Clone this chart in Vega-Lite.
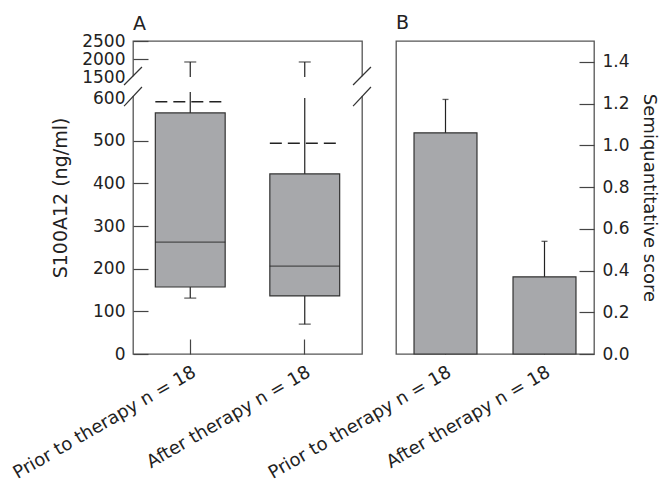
{
  "$schema": "https://vega.github.io/schema/vega-lite/v6.json",
  "background": "white",
  "padding": {"left": 9, "top": 13, "right": 5, "bottom": 0},
  "bounds": "flush",
  "spacing": 34,
  "config": {
    "font": "DejaVu Sans",
    "view": {"stroke": "#555", "strokeWidth": 1.3},
    "axis": {
      "labelFont": "DejaVu Sans",
      "titleFont": "DejaVu Sans",
      "labelColor": "#222",
      "titleColor": "#222",
      "tickColor": "#444",
      "tickWidth": 1.2,
      "domain": false,
      "grid": false,
      "titleFontWeight": "normal",
      "labelFontSize": 17,
      "titleFontSize": 18,
      "labelOverlap": false
    },
    "title": {"font": "DejaVu Sans", "fontSize": 19, "fontWeight": "normal", "anchor": "start", "color": "#222", "frame": "group"}
  },
  "hconcat": [
    {
      "width": 229,
      "height": 313,
      "title": {"text": "A", "offset": -2, "frame": "group"},
      "layer": [
        {
          "data": {
            "values": [
              {"group": "Prior to therapy n = 18", "lower": 131, "q1": 157, "median": 262, "q3": 565, "mean": 591, "whisker_gap_low": 857, "whisker_gap_high": 1500, "upper": 1917},
              {"group": "After therapy n = 18", "lower": 70, "q1": 136, "median": 206, "q3": 422, "mean": 494, "whisker_gap_low": 600, "whisker_gap_high": 1500, "upper": 1917}
            ]
          },
          "layer": [
            {
              "mark": {"type": "rule", "color": "#222", "strokeWidth": 1.2},
              "encoding": {
                "x": {"field": "group", "type": "nominal", "sort": null, "scale": {"paddingInner": 0, "paddingOuter": 0},
                  "axis": {"title": null, "tickSize": -15, "labelAngle": -30, "labelAlign": "right", "labelBaseline": "top", "labelPadding": 24, "labelOffset": 0, "labelFontSize": 18, "labelLimit": 400}},
                "y": {"field": "lower", "type": "quantitative",
                  "scale": {"type": "linear", "domain": [0, 600, 1500, 2500], "range": [313, 57, 36, 0], "nice": false, "zero": false},
                  "axis": {"values": [0, 100, 200, 300, 400, 500, 600, 1500, 2000, 2500], "tickCount": 20, "format": "d", "title": "S100A12 (ng/ml)", "titleFontSize": 19, "tickSize": -15, "labelPadding": 23, "titlePadding": 11,
                    "tickOpacity": {"condition": {"test": "datum.value === 600 || datum.value === 1500", "value": 0}, "value": 1}}},
                "y2": {"field": "q1"}
              }
            },
            {
              "mark": {"type": "rule", "color": "#222", "strokeWidth": 1.2},
              "encoding": {
                "x": {"field": "group", "type": "nominal", "sort": null},
                "y": {"field": "q3", "type": "quantitative"},
                "y2": {"field": "whisker_gap_low"}
              }
            },
            {
              "mark": {"type": "rule", "color": "#222", "strokeWidth": 1.2},
              "encoding": {
                "x": {"field": "group", "type": "nominal", "sort": null},
                "y": {"field": "whisker_gap_high", "type": "quantitative"},
                "y2": {"field": "upper"}
              }
            },
            {
              "mark": {"type": "bar", "width": {"band": 0.61}, "fill": "#a7a8ab", "stroke": "#333", "strokeWidth": 1.2},
              "encoding": {
                "x": {"field": "group", "type": "nominal", "sort": null},
                "y": {"field": "q1", "type": "quantitative"},
                "y2": {"field": "q3"}
              }
            },
            {
              "mark": {"type": "tick", "size": 70, "thickness": 1.3, "color": "#222"},
              "encoding": {
                "x": {"field": "group", "type": "nominal", "sort": null},
                "y": {"field": "median", "type": "quantitative"}
              }
            },
            {
              "mark": {"type": "tick", "size": 12, "thickness": 1.3, "color": "#222"},
              "encoding": {
                "x": {"field": "group", "type": "nominal", "sort": null},
                "y": {"field": "lower", "type": "quantitative"}
              }
            },
            {
              "mark": {"type": "tick", "size": 12, "thickness": 1.3, "color": "#222"},
              "encoding": {
                "x": {"field": "group", "type": "nominal", "sort": null},
                "y": {"field": "upper", "type": "quantitative"}
              }
            },
            {
              "mark": {"type": "rule", "strokeDash": [12, 6], "color": "#222", "strokeWidth": 1.5},
              "encoding": {
                "x": {"field": "group", "type": "nominal", "sort": null, "bandPosition": 0.195},
                "x2": {"field": "group", "bandPosition": 0.805},
                "y": {"field": "mean", "type": "quantitative"}
              }
            }
          ]
        },
        {
          "data": {"values": [{"border": 0, "gap_low": 690, "gap_high": 1520}, {"border": 1, "gap_low": 690, "gap_high": 1520}]},
          "mark": {"type": "rule", "color": "white", "strokeWidth": 3},
          "encoding": {
            "x": {"field": "border", "type": "quantitative", "scale": {"domain": [0, 1], "nice": false, "zero": false}, "axis": null},
            "y": {"field": "gap_low", "type": "quantitative"},
            "y2": {"field": "gap_high"}
          }
        },
        {
          "data": {
            "values": [
              {"x_start": -0.039, "x_end": 0.039, "y_start": 581, "y_end": 1071},
              {"x_start": -0.039, "x_end": 0.039, "y_start": 1157, "y_end": 1778},
              {"x_start": 0.961, "x_end": 1.039, "y_start": 581, "y_end": 1071},
              {"x_start": 0.961, "x_end": 1.039, "y_start": 1157, "y_end": 1778}
            ]
          },
          "mark": {"type": "rule", "color": "#333", "strokeWidth": 1.2},
          "encoding": {
            "x": {"field": "x_start", "type": "quantitative", "scale": {"domain": [0, 1], "nice": false, "zero": false}, "axis": null},
            "x2": {"field": "x_end"},
            "y": {"field": "y_start", "type": "quantitative"},
            "y2": {"field": "y_end"}
          }
        }
      ],
      "resolve": {"scale": {"x": "independent"}, "axis": {"x": "independent"}}
    },
    {
      "width": 198,
      "height": 313,
      "title": {"text": "B", "offset": 8, "frame": "group"},
      "data": {
        "values": [
          {"group": "Prior to therapy n = 18", "score": 1.06, "err_upper": 1.22},
          {"group": "After therapy n = 18", "score": 0.37, "err_upper": 0.54}
        ]
      },
      "layer": [
        {
          "mark": {"type": "bar", "width": {"band": 0.636}, "fill": "#a7a8ab", "stroke": "#333", "strokeWidth": 1.2},
          "encoding": {
            "x": {"field": "group", "type": "nominal", "sort": null, "scale": {"paddingInner": 0, "paddingOuter": 0},
              "axis": {"title": null, "tickSize": -15, "labelAngle": -30, "labelAlign": "right", "labelBaseline": "top", "labelPadding": 24, "labelOffset": 0, "labelFontSize": 18, "labelLimit": 400}},
            "y": {"field": "score", "type": "quantitative", "scale": {"domain": [0, 1.5], "nice": false},
              "axis": {"orient": "right", "values": [0, 0.2, 0.4, 0.6, 0.8, 1.0, 1.2, 1.4], "tickCount": 20, "format": ".1f", "tickSize": -15, "labelPadding": 23, "title": "Semiquantitative score", "titleAngle": 90, "titlePadding": 10}}
          }
        },
        {
          "mark": {"type": "rule", "color": "#222", "strokeWidth": 1.2},
          "encoding": {
            "x": {"field": "group", "type": "nominal", "sort": null},
            "y": {"field": "score", "type": "quantitative"},
            "y2": {"field": "err_upper"}
          }
        },
        {
          "mark": {"type": "tick", "size": 6, "thickness": 1.3, "color": "#222"},
          "encoding": {
            "x": {"field": "group", "type": "nominal", "sort": null},
            "y": {"field": "err_upper", "type": "quantitative"}
          }
        }
      ]
    }
  ]
}
